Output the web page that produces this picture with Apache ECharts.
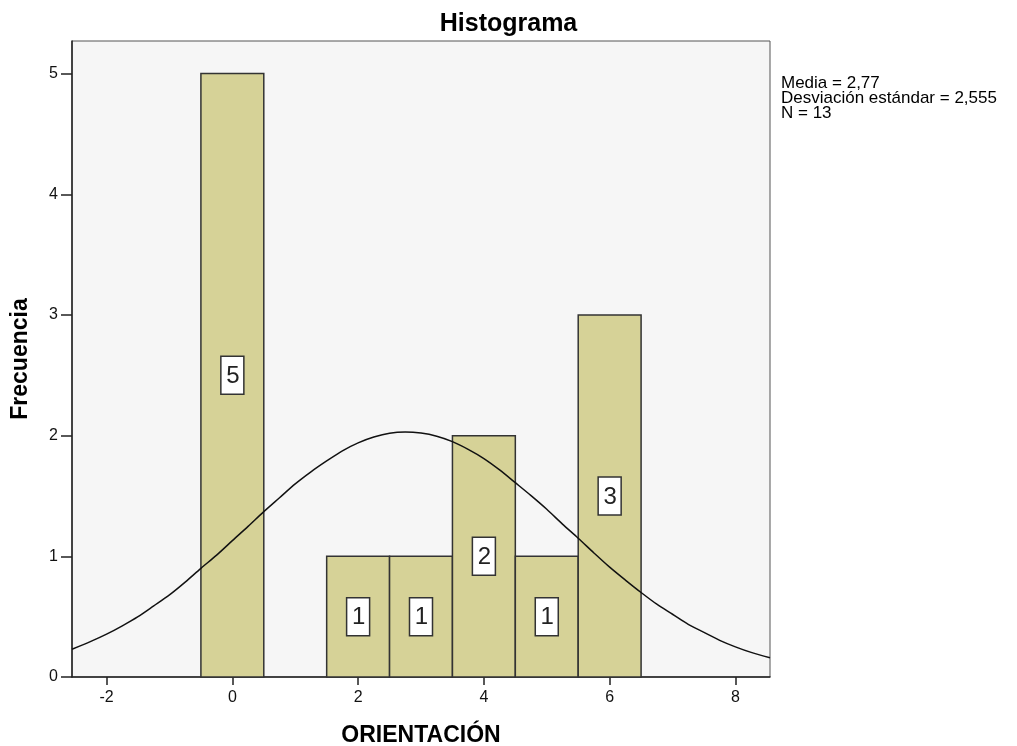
<!DOCTYPE html>
<html>
<head>
<meta charset="utf-8">
<script src="https://cdn.jsdelivr.net/npm/echarts@6/dist/echarts.min.js"></script>
<style>
  html, body { margin: 0; padding: 0; background: #fff; }
  #main { width: 1017px; height: 746px; }
</style>
</head>
<body>
<div id="main"></div>
<script>
// histogram bins (width 1, centred on the value)
const binCenters = [0, 2, 3, 4, 5, 6];
const binCounts = [5, 1, 1, 2, 1, 3];

// normal curve
const curveX = [-2.55, -2.25, -2, -1.75, -1.5, -1.25, -1, -0.75, -0.5, -0.25, 0, 0.25, 0.5, 0.75, 1, 1.25, 1.5, 1.75, 2, 2.25, 2.5, 2.75, 3, 3.25, 3.5, 3.75, 4, 4.25, 4.5, 4.75, 5, 5.25, 5.5, 5.75, 6, 6.25, 6.5, 6.75, 7, 7.25, 7.5, 7.75, 8, 8.25, 8.55];
const curveY = [0.23, 0.295, 0.355, 0.424, 0.5, 0.589, 0.68, 0.786, 0.9, 1.01, 1.13, 1.248, 1.37, 1.485, 1.6, 1.7, 1.79, 1.874, 1.94, 1.988, 2.02, 2.03, 2.021, 1.995, 1.95, 1.886, 1.81, 1.716, 1.61, 1.503, 1.39, 1.267, 1.15, 1.028, 0.91, 0.803, 0.7, 0.603, 0.52, 0.436, 0.37, 0.304, 0.25, 0.204, 0.16];

const xTicks = [-2, 0, 2, 4, 6, 8];
const yTicks = [0, 1, 2, 3, 4, 5];

const statsLines = ["Media = 2,77", "Desviación estándar = 2,555", "N = 13"];

const font = "Liberation Sans, Arial, sans-serif";

const chart = echarts.init(document.getElementById("main"));

chart.setOption({
  backgroundColor: "#fff",
  animation: false,
  title: {
    text: "Histograma",
    left: "center",
    top: 7,
    textStyle: { fontFamily: font, fontSize: 25, fontWeight: "bold", color: "#000" }
  },
  graphic: [
    {
      type: "text",
      left: 781,
      top: 75,
      style: {
        text: statsLines.join("\n"),
        font: "17px " + font,
        fill: "#000",
        lineHeight: 15
      }
    }
  ],
  grid: {
    left: 72, right: 247, top: 41, bottom: 69,
    outerBoundsMode: "none",
    show: true,
    backgroundColor: "#f6f6f6",
    borderColor: "#555",
    borderWidth: 1
  },
  xAxis: {
    type: "value",
    min: -2.55,
    max: 8.55,
    name: "ORIENTACIÓN",
    nameLocation: "middle",
    nameGap: 47,
    nameTextStyle: { fontFamily: font, fontSize: 23, fontWeight: "bold", color: "#000" },
    axisLine: { onZero: false, lineStyle: { color: "#222", width: 1.5 } },
    axisTick: { show: true, length: 8, customValues: xTicks, lineStyle: { color: "#222", width: 1.5 } },
    axisLabel: { customValues: xTicks, fontFamily: font, fontSize: 16, color: "#111", margin: 13 },
    splitLine: { show: false }
  },
  yAxis: {
    type: "value",
    min: 0,
    max: 5.27,
    name: "Frecuencia",
    nameLocation: "middle",
    nameGap: 40,
    nameTextStyle: { fontFamily: font, fontSize: 23, fontWeight: "bold", color: "#000" },
    axisLine: { show: true, onZero: false, lineStyle: { color: "#222", width: 1.5 } },
    axisTick: { show: true, length: 11, customValues: yTicks, lineStyle: { color: "#222", width: 1.5 } },
    axisLabel: { customValues: yTicks, fontFamily: font, fontSize: 16, color: "#111", margin: 14 },
    splitLine: { show: false }
  },
  series: [
    {
      type: "custom",
      data: binCenters.map((c, i) => [c, binCounts[i]]),
      renderItem: function (params, api) {
        const c = api.value(0);
        const v = api.value(1);
        const p0 = api.coord([c - 0.5, v]);
        const p1 = api.coord([c + 0.5, 0]);
        const mid = api.coord([c, v / 2]);
        return {
          type: "group",
          children: [
            {
              type: "rect",
              shape: { x: p0[0], y: p0[1], width: p1[0] - p0[0], height: p1[1] - p0[1] },
              style: { fill: "#d6d297", stroke: "#333", lineWidth: 1.5 }
            },
            {
              type: "rect",
              shape: { x: mid[0] - 11.5, y: mid[1] - 19, width: 23, height: 38 },
              style: { fill: "#fff", stroke: "#333", lineWidth: 1.5 }
            },
            {
              type: "text",
              x: mid[0] + 0.5,
              y: mid[1] + 1,
              style: {
                text: String(v),
                font: "24px " + font,
                fill: "#222",
                align: "center",
                verticalAlign: "middle"
              }
            }
          ]
        };
      },
      z: 2
    },
    {
      type: "line",
      data: curveX.map((x, i) => [x, curveY[i]]),
      smooth: 0.3,
      showSymbol: false,
      lineStyle: { color: "#111", width: 1.5 },
      z: 3
    }
  ]
});
</script>
</body>
</html>
